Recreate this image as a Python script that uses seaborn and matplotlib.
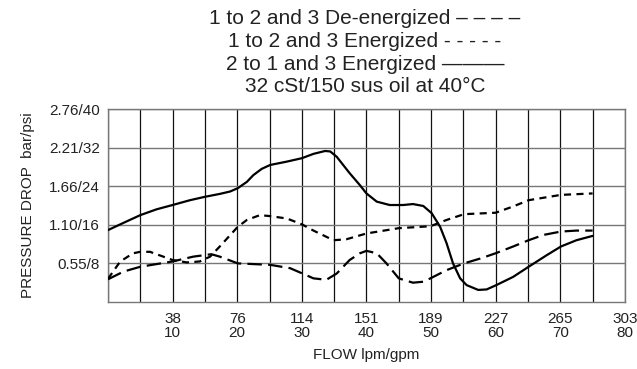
import matplotlib
matplotlib.use("Agg")
import matplotlib.pyplot as plt
import numpy as np
import pandas as pd
import seaborn as sb

# flow in gpm, pressure drop in psi
deen_gpm = [0, 2.4, 5, 10, 13.2, 16.0, 17.3, 20.1, 25.1, 28.2, 30.1, 31.8, 33.8, 35.4, 37.4, 39, 40, 41.6, 43.1, 45,
            47.2, 48.8, 49.9, 52.4, 55.1, 57.6, 60, 62.7, 65.1, 67.4, 70.1, 72.5, 75]
deen_psi = [4.7, 6.3, 7.3, 8.4, 9.4, 9.9, 9.4, 8.0, 7.7, 7.0, 5.9, 4.9, 4.6, 5.9, 8.7, 10.1, 10.6, 10.1, 8.0, 4.9,
            4.0, 4.2, 4.9, 6.6, 8.0, 9.0, 10.1, 11.5, 12.8, 13.9, 14.6, 14.8, 14.8]

en12_gpm = [0, 1.9, 3.9, 5, 6.5, 10, 12.2, 14.2, 15.8, 17.3, 20.1, 21.5, 23.5, 25.1, 27.7, 30, 31.8, 34.9, 36.9, 40,
            45, 49.9, 52.4, 55.1, 60, 62.7, 65.1, 70.1, 75]
en12_psi = [4.8, 8.4, 10.1, 10.4, 10.4, 8.7, 8.2, 8.4, 9.4, 11.5, 15.6, 17.0, 18.0, 17.8, 17.3, 16.1, 14.8, 12.8, 13.0, 14.2,
            15.3, 15.7, 17.0, 18.2, 18.5, 19.8, 21.1, 22.2, 22.5]

en21_gpm = [0, 2.4, 5, 7.5, 10, 12.7, 15, 17.3, 18.9, 20.1, 21.5, 22.5, 23.8, 25.1, 27.7, 30, 31.8, 33.6, 34.4, 35.4,
            37.4, 39, 40, 41.6, 43.6, 45.7, 47.2, 48.8, 50.1, 51.4, 52.4, 53.4, 54.5, 55.5, 57.3, 58.6, 60.1, 62.7, 65.1,
            67.9, 70.1, 72.5, 75]
en21_psi = [14.9, 16.4, 18.0, 19.2, 20.1, 21.1, 21.8, 22.4, 22.9, 23.6, 24.9, 26.3, 27.6, 28.4, 29.1, 29.8, 30.7, 31.3, 31.2, 30.1,
            26.7, 24.2, 22.5, 20.8, 20.1, 20.1, 20.3, 19.9, 18.4, 15.6, 12.2, 8.0, 4.9, 3.5, 2.5, 2.6, 3.5, 5.2, 7.3,
            9.7, 11.5, 12.8, 13.7]

lpm_labels = ["38", "76", "114", "151", "189", "227", "265", "303"]
gpm_labels = ["10", "20", "30", "40", "50", "60", "70", "80"]
y_labels = ["0.55/8", "1.10/16", "1.66/24", "2.21/32", "2.76/40"]

title_lines = ["1 to 2 and 3 De-energized \u2013 \u2013 \u2013 \u2013",
               "1 to 2 and 3 Energized - - - - -",
               "2 to 1 and 3 Energized \u2014\u2014\u2014",
               "32 cSt/150 sus oil at 40\u00b0C"]

sb.set_style("white")
plt.rcParams["font.family"] = ["Liberation Sans", "DejaVu Sans"]

fig = plt.figure(figsize=(6.37, 3.69), dpi=100)
ax = fig.add_axes([0.1695, 0.1816, 0.8115, 0.523])

sb.lineplot(x=deen_gpm, y=deen_psi, ax=ax, color="black", lw=1.6, dashes=(6.5, 2.8))
sb.lineplot(x=en12_gpm, y=en12_psi, ax=ax, color="black", lw=1.6, dashes=(3.2, 2.4))
sb.lineplot(x=en21_gpm, y=en21_psi, ax=ax, color="black", lw=1.6)
for ln in ax.lines:
    ln.set_zorder(3)
    ln.set_solid_joinstyle("round")

ax.set_xlim(0, 80)
ax.set_ylim(0, 40)

ax.set_xticks(np.arange(0, 81, 5))
ax.set_xticklabels(["" if i % 2 or i == 0 else lpm_labels[i // 2 - 1] + "\n" + gpm_labels[i // 2 - 1]
                    for i in range(17)], fontsize=11, linespacing=1.0)
ax.set_yticks([8, 16, 24, 32, 40])
ax.set_yticklabels(y_labels, fontsize=11)
ax.tick_params(length=0, pad=7, colors="#222222")
ax.tick_params(axis="y", pad=6)

ax.xaxis.grid(True, color="#111111", lw=0.9)
ax.yaxis.grid(True, color="#777777", lw=1.0)
for s in ax.spines.values():
    s.set_color("#777777")
    s.set_linewidth(1.0)

ax.set_xlabel("FLOW lpm/gpm", fontsize=11, color="#222222", labelpad=6)
ax.set_ylabel("PRESSURE DROP  bar/psi", fontsize=11, color="#222222", labelpad=10)

for i, t in enumerate(title_lines):
    fig.text(0.573, 1 - (19 + 22.5 * i) / 369, t, ha="center", va="center", fontsize=15, color="#222222")

fig.savefig("out.png", dpi=100)
